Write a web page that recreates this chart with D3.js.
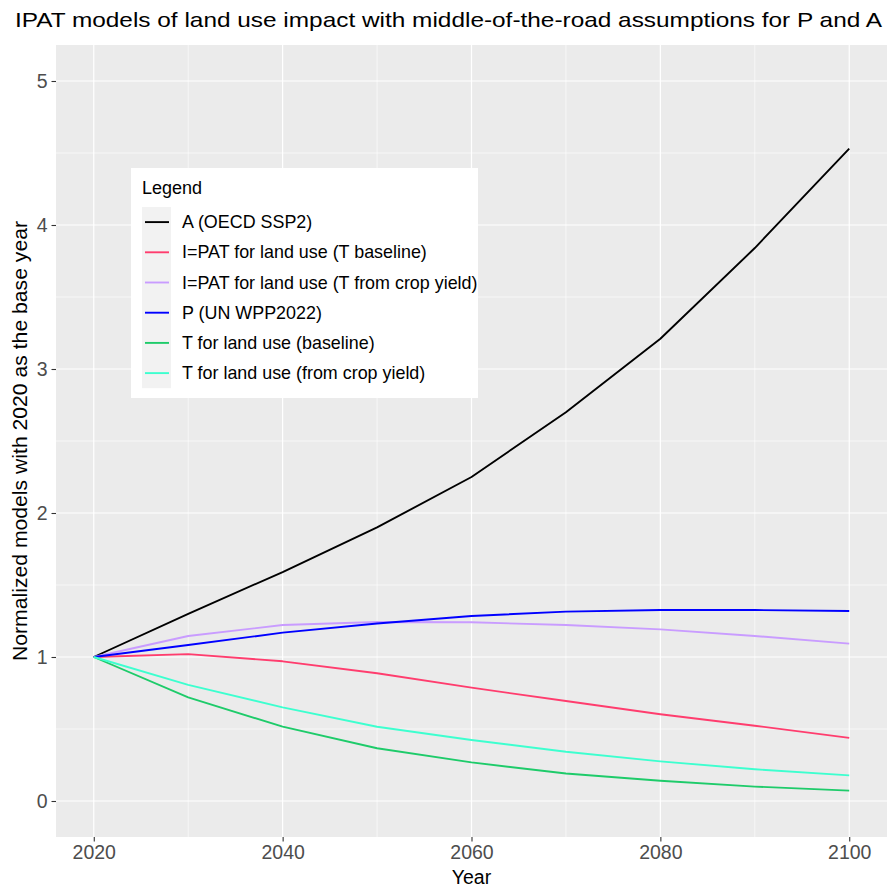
<!DOCTYPE html>
<html>
<head>
<meta charset="utf-8">
<script src="https://cdn.jsdelivr.net/npm/d3@7/dist/d3.min.js"></script>
<style>
  html, body { margin: 0; padding: 0; background: #ffffff; }
  svg { display: block; font-family: Arial, "Liberation Sans", sans-serif; }
</style>
</head>
<body>
<svg id="chart" width="887" height="888"></svg>
<script>
// ---- Data ----
const years = [2020, 2030, 2040, 2050, 2060, 2070, 2080, 2090, 2100];
const seriesNames = [
  "A (OECD SSP2)",
  "I=PAT for land use (T baseline)",
  "I=PAT for land use (T from crop yield)",
  "P (UN WPP2022)",
  "T for land use (baseline)",
  "T for land use (from crop yield)"
];
const seriesColors = ["#000000", "#FF3D6E", "#C99CFF", "#0000FF", "#1ECB6A", "#3DFFCF"];
const valuesA        = [1.00, 1.30, 1.59, 1.90, 2.25, 2.70, 3.21, 3.84, 4.53];
const valuesIPATbase = [1.00, 1.02, 0.97, 0.887, 0.787, 0.694, 0.602, 0.523, 0.438];
const valuesIPATcrop = [1.00, 1.146, 1.222, 1.243, 1.241, 1.222, 1.192, 1.146, 1.093];
const valuesP        = [1.00, 1.083, 1.169, 1.233, 1.285, 1.315, 1.326, 1.326, 1.319];
const valuesTbase    = [1.00, 0.72, 0.516, 0.366, 0.268, 0.191, 0.141, 0.10, 0.072];
const valuesTcrop    = [1.00, 0.806, 0.65, 0.516, 0.424, 0.342, 0.275, 0.22, 0.178];
const allValues = [valuesA, valuesIPATbase, valuesIPATcrop, valuesP, valuesTbase, valuesTcrop];
const xTicks = [2020, 2040, 2060, 2080, 2100];
const xMinor = [2030, 2050, 2070, 2090];
const yTicks = [0, 1, 2, 3, 4, 5];
const yMinor = [0.5, 1.5, 2.5, 3.5, 4.5];
const titleText = "IPAT models of land use impact with middle-of-the-road assumptions for P and A";
const xTitle = "Year";
const yTitle = "Normalized models with 2020 as the base year";
const legendTitle = "Legend";

// ---- Layout ----
const svg = d3.select("#chart");
const panel = { left: 56, right: 887, top: 45, bottom: 837 };
const x = d3.scaleLinear().domain([2016, 2104]).range([panel.left, panel.right]);
const y = d3.scaleLinear().domain([-0.25, 5.25]).range([panel.bottom, panel.top]);

// Panel background
svg.append("rect")
  .attr("x", panel.left).attr("y", panel.top)
  .attr("width", panel.right - panel.left).attr("height", panel.bottom - panel.top)
  .attr("fill", "#EBEBEB");

// Grid
const grid = svg.append("g");
grid.selectAll(".ymin").data(yMinor).enter().append("line")
  .attr("x1", panel.left).attr("x2", panel.right)
  .attr("y1", d => y(d)).attr("y2", d => y(d))
  .attr("stroke", "#ffffff").attr("stroke-width", 0.6);
grid.selectAll(".xmin").data(xMinor).enter().append("line")
  .attr("y1", panel.top).attr("y2", panel.bottom)
  .attr("x1", d => x(d)).attr("x2", d => x(d))
  .attr("stroke", "#ffffff").attr("stroke-width", 0.6);
grid.selectAll(".ymaj").data(yTicks).enter().append("line")
  .attr("x1", panel.left).attr("x2", panel.right)
  .attr("y1", d => y(d)).attr("y2", d => y(d))
  .attr("stroke", "#ffffff").attr("stroke-width", 1.2);
grid.selectAll(".xmaj").data(xTicks).enter().append("line")
  .attr("y1", panel.top).attr("y2", panel.bottom)
  .attr("x1", d => x(d)).attr("x2", d => x(d))
  .attr("stroke", "#ffffff").attr("stroke-width", 1.2);

// Axes
const xAxis = svg.append("g")
  .attr("transform", `translate(0,${panel.bottom})`)
  .call(d3.axisBottom(x).tickValues(xTicks).tickFormat(d3.format("d")).tickSize(4.5).tickPadding(4));
xAxis.select(".domain").remove();
xAxis.selectAll(".tick line").attr("stroke", "#333333").attr("stroke-width", 1.1);
xAxis.selectAll(".tick text").attr("fill", "#4D4D4D").attr("font-size", 19.5)
  .attr("font-family", "Arial, 'Liberation Sans', sans-serif");

const yAxis = svg.append("g")
  .attr("transform", `translate(${panel.left},0)`)
  .call(d3.axisLeft(y).tickValues(yTicks).tickFormat(d3.format("d")).tickSize(4.5).tickPadding(4));
yAxis.select(".domain").remove();
yAxis.selectAll(".tick line").attr("stroke", "#333333").attr("stroke-width", 1.1);
yAxis.selectAll(".tick text").attr("fill", "#4D4D4D").attr("font-size", 19.5)
  .attr("font-family", "Arial, 'Liberation Sans', sans-serif");

// Lines
const line = d3.line().x((d, i) => x(years[i])).y(d => y(d));
const linesG = svg.append("g");
allValues.forEach((vals, k) => {
  linesG.append("path")
    .datum(vals)
    .attr("d", line)
    .attr("fill", "none")
    .attr("stroke", seriesColors[k])
    .attr("stroke-width", 1.9)
    .attr("stroke-linejoin", "round");
});

// Titles
svg.append("text")
  .attr("x", 15).attr("y", 27)
  .attr("font-size", 21)
  .attr("fill", "#000")
  .attr("textLength", 867).attr("lengthAdjust", "spacingAndGlyphs")
  .text(titleText);

svg.append("text")
  .attr("x", (panel.left + panel.right) / 2).attr("y", 884)
  .attr("text-anchor", "middle")
  .attr("font-size", 19.5)
  .attr("fill", "#000")
  .text(xTitle);

svg.append("text")
  .attr("transform", `translate(27,${(panel.top + panel.bottom) / 2}) rotate(-90)`)
  .attr("text-anchor", "middle")
  .attr("font-size", 19.5)
  .attr("fill", "#000")
  .attr("textLength", 440).attr("lengthAdjust", "spacingAndGlyphs")
  .text(yTitle);

// Legend
const lg = svg.append("g");
const lgBox = { x: 131, y: 168, w: 347, h: 230 };
lg.append("rect")
  .attr("x", lgBox.x).attr("y", lgBox.y).attr("width", lgBox.w).attr("height", lgBox.h)
  .attr("fill", "#ffffff");
lg.append("text")
  .attr("x", 142).attr("y", 194)
  .attr("font-size", 18).attr("fill", "#000")
  .text(legendTitle);
const rowTop = 207, rowH = 30.2;
lg.append("rect")
  .attr("x", 142).attr("y", rowTop).attr("width", 29).attr("height", rowH * seriesNames.length)
  .attr("fill", "#F2F2F2");
seriesNames.forEach((name, i) => {
  const cy = rowTop + rowH * i + rowH / 2;
  lg.append("line")
    .attr("x1", 145).attr("x2", 169)
    .attr("y1", cy).attr("y2", cy)
    .attr("stroke", seriesColors[i]).attr("stroke-width", 1.9);
  lg.append("text")
    .attr("x", 182).attr("y", cy + 6)
    .attr("font-size", 17.9).attr("fill", "#000")
    .text(name);
});
</script>
</body>
</html>
